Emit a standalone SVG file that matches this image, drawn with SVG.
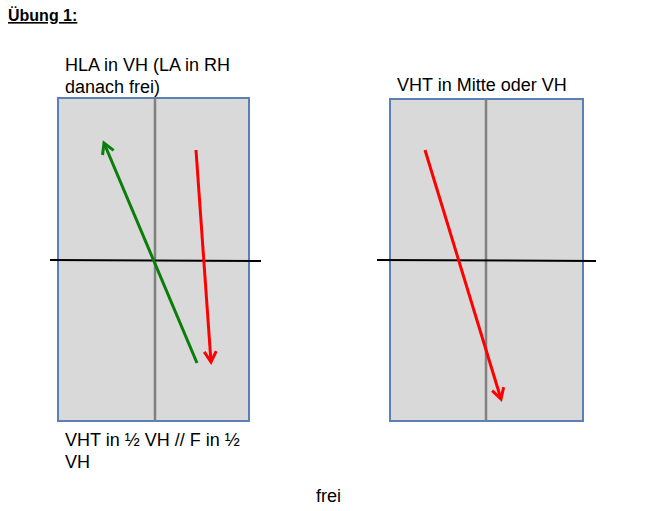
<svg xmlns="http://www.w3.org/2000/svg" width="645" height="511" viewBox="0 0 645 511">
<style>
text{font-family:"Liberation Sans",Arial,sans-serif;font-size:18px;fill:#000}
.court{fill:#d9d9d9;stroke:#5b80b6;stroke-width:2}
.mid{stroke:#808080;stroke-width:2.5}
.net{stroke:#000;stroke-width:2}
.red{stroke:#ff0000;stroke-width:3;fill:none}
.green{stroke:#0a7d0a;stroke-width:3;fill:none}
</style>
<defs>
<marker id="ar" viewBox="0 0 10 10" refX="8" refY="5" markerWidth="5" markerHeight="5" orient="auto" markerUnits="strokeWidth"><path d="M1,1 L8,5 L1,9" fill="none" stroke="#ff0000" stroke-width="2"/></marker>
<marker id="ag" viewBox="0 0 10 10" refX="8" refY="5" markerWidth="5" markerHeight="5" orient="auto" markerUnits="strokeWidth"><path d="M1,1 L8,5 L1,9" fill="none" stroke="#0a7d0a" stroke-width="2"/></marker>
</defs>
<text x="8" y="21" font-weight="bold" text-decoration="underline" style="font-size:16px">Übung 1:</text>
<g id="court1">
<rect class="court" x="58" y="98" width="191" height="323"/>
<line class="mid" x1="155" y1="98" x2="155" y2="421"/>
<line class="net" x1="50" y1="260" x2="261" y2="261"/>
<text x="65" y="71">HLA in VH (LA in RH</text>
<text x="65" y="93">danach frei)</text>
<text x="65" y="446">VHT in ½ VH // F in ½</text>
<text x="65" y="468">VH</text>
</g>
<g id="court2">
<rect class="court" x="390" y="99" width="193" height="322"/>
<line class="mid" x1="486" y1="99" x2="486" y2="421"/>
<line class="net" x1="377" y1="260" x2="596" y2="261"/>
<text x="397" y="91">VHT in Mitte oder VH</text>
</g>
<text x="316" y="502">frei</text>
<g id="connectors">
<line class="green" x1="197" y1="363" x2="104" y2="143" marker-end="url(#ag)"/>
<line class="red" x1="196" y1="150" x2="211" y2="362" marker-end="url(#ar)"/>
<line class="red" x1="425" y1="150" x2="501" y2="399" marker-end="url(#ar)"/>
</g>
</svg>
